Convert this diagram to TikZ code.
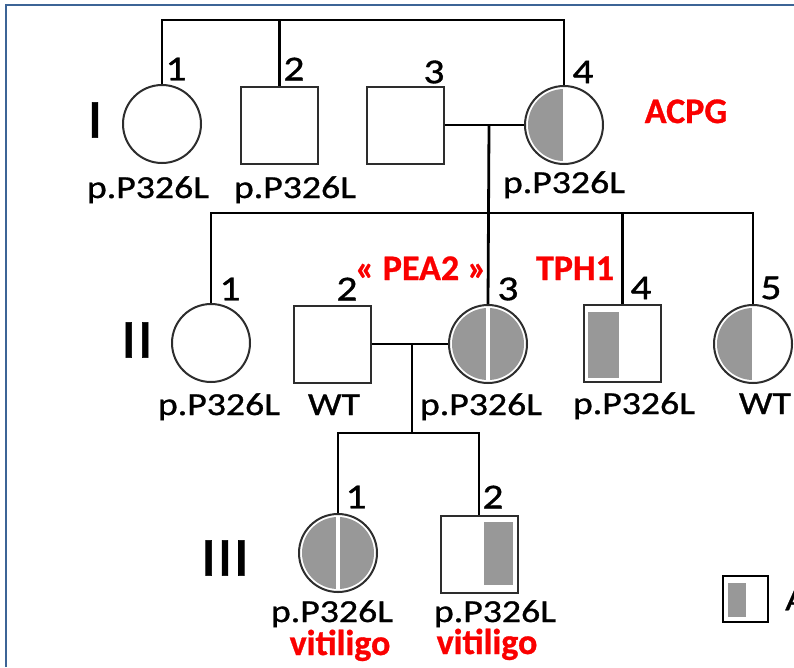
\documentclass[tikz,border=0pt]{standalone}
\usepackage{fontspec}
\setmainfont{Carlito}
\newfontfamily\blk[FakeStretch=1.18,FakeBold=1.0]{Carlito}
\newfontfamily\redfont[FakeBold=0.8]{Carlito Bold}
\definecolor{framecol}{RGB}{60,100,150}
\definecolor{gfill}{RGB}{152,152,152}
\definecolor{shp}{RGB}{45,45,45}
\definecolor{redt}{RGB}{250,0,0}
\begin{document}
\begin{tikzpicture}[x=1pt,y=-1pt,
 conn/.style={line width=2.8pt, black},
 fem/.style={circle, draw=shp, line width=2pt, minimum size=78pt, inner sep=0pt},
 mal/.style={rectangle, draw=shp, line width=2pt, minimum size=77pt, inner sep=0pt},
 lab/.style={font=\blk\fontsize{32}{32}\selectfont, inner sep=0pt, anchor=base},
 num/.style={font=\blk\fontsize{35}{35}\selectfont, inner sep=0pt},
 gen/.style={font=\blk\fontsize{55}{55}\selectfont, inner sep=0pt},
 redlab/.style={font=\redfont\fontsize{36}{36}\selectfont, text=redt, inner sep=0pt, anchor=base}]
\useasboundingbox[fill=white] (0,0) rectangle (794,667);
\draw[framecol, line width=2pt] (6,667) -- (6,5) -- (794,5);

% Generation I
\node[fem] (I1) at (162,124) {};
\node[mal] (I2) at (279.5,125) {};
\node[mal] (I3) at (405,125) {};
\node[fem] (I4) at (564,125) {};
\begin{scope}
 \clip (I4.center) circle[radius=36];
 \fill[gfill] ([shift={(-40,-40)}]I4.center) rectangle ([shift={(-1.5,40)}]I4.center);
\end{scope}
\coordinate (topL) at (162,20);
\draw[conn] (I1.north) -- (topL) -- (topL -| I4.north) -- (I4.north);
\draw[conn] (I2.north) -- (I2.north |- topL);
\draw[conn] (I3.east) -- (I4.west);
\coordinate (m1) at (489,125);

% Generation II
\node[fem] (II1) at (211,343) {};
\node[mal] (II2) at (332,344) {};
\node[fem] (II3) at (488,344) {};
\node[mal] (II4) at (622.5,343.5) {};
\node[fem] (II5) at (753,344) {};
\begin{scope}
 \clip (II3.center) circle[radius=36];
 \fill[gfill] ([shift={(-40,-40)}]II3.center) rectangle ([shift={(-2,40)}]II3.center);
 \fill[gfill] ([shift={(2,-40)}]II3.center) rectangle ([shift={(40,40)}]II3.center);
\end{scope}
\begin{scope}
 \clip (II5.center) circle[radius=36];
 \fill[gfill] ([shift={(-40,-40)}]II5.center) rectangle ([shift={(-1.5,40)}]II5.center);
\end{scope}
\fill[gfill] ([shift={(-34.5,-31.5)}]II4.center) rectangle ([shift={(-3.5,34.5)}]II4.center);
\coordinate (sibL) at (211,213);
\draw[conn] (II1.north) -- (sibL) -- (sibL -| II5.north) -- (II5.north);
\draw[conn] (m1) -- (II3.north);
\draw[conn] (II4.north) -- (II4.north |- sibL);
\draw[conn] (II2.east) -- (II3.west);
\coordinate (m2) at (412,344);

% Generation III
\node[fem] (III1) at (338,553) {};
\node[mal] (III2) at (479,554) {};
\begin{scope}
 \clip (III1.center) circle[radius=36];
 \fill[gfill] ([shift={(-40,-40)}]III1.center) rectangle ([shift={(-2,40)}]III1.center);
 \fill[gfill] ([shift={(2,-40)}]III1.center) rectangle ([shift={(40,40)}]III1.center);
\end{scope}
\fill[gfill] ([shift={(5,-32)}]III2.center) rectangle ([shift={(34,31)}]III2.center);
\coordinate (sib3) at (412,433);
\draw[conn] (m2) -- (sib3);
\draw[conn] (III1.north) -- (III1.north |- sib3) -- (III2.north |- sib3) -- (III2.north);

% Legend
\node[rectangle, draw=black, line width=2.5pt, minimum width=45pt, minimum height=46pt, inner sep=0pt] (leg) at (745.5,599) {};
\fill[gfill] (728,583) rectangle (746,617);
\node[lab, anchor=west] (legA) at (785,600) {A};

% Generation labels
\node[gen] (gI) at (95,120) {I};
\node[gen] (gII) at (137,340) {II};
\node[gen] (gIII) at (225,558) {III};

% Numbers
\node[num] (nI1) at (176,69) {1};
\node[num] (nI2) at (294,69) {2};
\node[num] (nI3) at (434,72) {3};
\node[num] (nI4) at (583,72) {4};
\node[num] (nII1) at (230,289) {1};
\node[num] (nII2) at (347,289) {2};
\node[num] (nII3) at (508,289) {3};
\node[num] (nII4) at (641,288) {4};
\node[num] (nII5) at (771,288) {5};
\node[num] (nIII1) at (356,497) {1};
\node[num] (nIII2) at (493,497) {2};

% Genotype labels
\node[lab] (tI1) at (148,198) {p.P326L};
\node[lab] (tI2) at (295,198) {p.P326L};
\node[lab] (tI4) at (564,193) {p.P326L};
\node[lab] (tII1) at (219,415) {p.P326L};
\node[lab] (tII2) at (334,415) {WT};
\node[lab] (tII3) at (481,415) {p.P326L};
\node[lab] (tII4) at (634,414) {p.P326L};
\node[lab] (tII5) at (765,414) {WT};
\node[lab] (tIII1) at (332,622) {p.P326L};
\node[lab] (tIII2) at (495,622) {p.P326L};

% Red annotations
\node[redlab] (acpg) at (686,123) {ACPG};
\node[redlab] (pea2) at (421,280) {« PEA2 »};
\node[redlab] (tph1) at (575,280) {TPH1};
\node[redlab] (vit1) at (340,655) {vitiligo};
\node[redlab] (vit2) at (487,654) {vitiligo};
\end{tikzpicture}
\end{document}
